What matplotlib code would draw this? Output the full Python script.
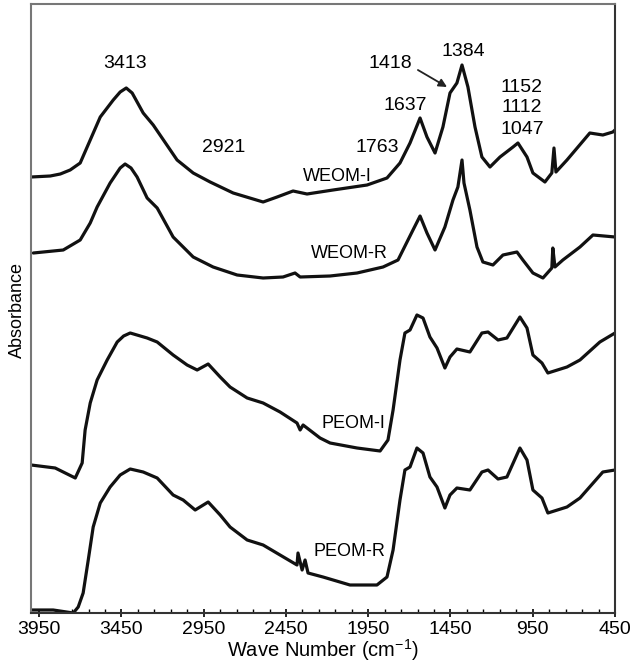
import numpy as np
import matplotlib
matplotlib.use("Agg")
import matplotlib.pyplot as plt
from matplotlib.ticker import FixedLocator, NullLocator

plt.rcParams['font.family'] = ['Liberation Sans', 'DejaVu Sans']
plt.rcParams['mathtext.default'] = 'regular'

# ─────────────────────────────────────────────
# Spectra (wavenumber in cm-1, absorbance in arbitrary stacked units)
# ─────────────────────────────────────────────

weom_i_wn = [3999, 3883, 3822, 3762, 3701, 3640, 3579, 3500, 3458, 3421, 3385, 3318,
             3257, 3112, 3014, 2911, 2771, 2589, 2504, 2407, 2322, 2243, 2164, 1957,
             1836, 1757, 1696, 1635, 1593, 1544, 1496, 1453, 1411, 1380, 1344, 1301,
             1259, 1210, 1149, 1070, 1040, 985, 949, 876, 834, 821, 809, 742, 603,
             524, 463, 450]
weom_i_ab = [4.36, 4.37, 4.39, 4.43, 4.50, 4.73, 4.96, 5.13, 5.21, 5.25, 5.20, 5.00,
             4.88, 4.53, 4.40, 4.31, 4.20, 4.11, 4.16, 4.22, 4.19, 4.21, 4.23, 4.28,
             4.35, 4.50, 4.70, 4.95, 4.76, 4.60, 4.86, 5.20, 5.30, 5.48, 5.26, 4.86,
             4.56, 4.46, 4.56, 4.66, 4.70, 4.56, 4.40, 4.31, 4.40, 4.65, 4.41, 4.53,
             4.80, 4.78, 4.81, 4.83]

weom_r_wn = [3986, 3804, 3701, 3640, 3598, 3519, 3458, 3428, 3392, 3355, 3294, 3233,
             3136, 3014, 2893, 2747, 2589, 2468, 2395, 2364, 2182, 2018, 1860, 1769,
             1678, 1635, 1593, 1544, 1484, 1435, 1405, 1380, 1368, 1332, 1289, 1253,
             1192, 1131, 1046, 1010, 949, 888, 834, 828, 815, 767, 663, 584, 450]
weom_r_ab = [3.60, 3.63, 3.73, 3.90, 4.06, 4.30, 4.45, 4.49, 4.45, 4.36, 4.15, 4.05,
             3.76, 3.56, 3.46, 3.38, 3.35, 3.36, 3.40, 3.36, 3.37, 3.40, 3.46, 3.53,
             3.83, 3.97, 3.80, 3.63, 3.86, 4.13, 4.26, 4.53, 4.30, 4.03, 3.66, 3.51,
             3.48, 3.58, 3.61, 3.53, 3.40, 3.35, 3.45, 3.65, 3.46, 3.53, 3.66, 3.78,
             3.76]

peom_i_wn = [3999, 3853, 3743, 3731, 3689, 3671, 3640, 3598, 3537, 3476, 3437, 3397,
             3294, 3233, 3136, 3051, 2990, 2923, 2850, 2790, 2686, 2589, 2486, 2383,
             2364, 2346, 2243, 2182, 2018, 1878, 1830, 1799, 1757, 1727, 1696, 1654,
             1617, 1575, 1532, 1484, 1453, 1411, 1332, 1259, 1222, 1161, 1107, 1028,
             985, 949, 894, 858, 742, 663, 542, 450]
peom_i_ab = [1.48, 1.45, 1.36, 1.35, 1.50, 1.83, 2.10, 2.33, 2.53, 2.71, 2.77, 2.80,
             2.75, 2.71, 2.58, 2.48, 2.43, 2.49, 2.36, 2.26, 2.15, 2.10, 2.01, 1.90,
             1.83, 1.88, 1.75, 1.70, 1.65, 1.62, 1.73, 2.03, 2.53, 2.80, 2.83, 2.98,
             2.95, 2.76, 2.65, 2.45, 2.56, 2.64, 2.61, 2.80, 2.81, 2.73, 2.75, 2.96,
             2.85, 2.58, 2.50, 2.40, 2.46, 2.53, 2.71, 2.80]

peom_r_wn = [3999, 3865, 3743, 3713, 3683, 3652, 3622, 3579, 3519, 3458, 3397, 3318,
             3233, 3136, 3075, 3002, 2923, 2850, 2790, 2686, 2589, 2486, 2383, 2377,
             2352, 2334, 2316, 2225, 2061, 1897, 1836, 1799, 1757, 1727, 1696, 1654,
             1617, 1575, 1532, 1484, 1453, 1411, 1332, 1259, 1222, 1161, 1107, 1028,
             985, 949, 894, 858, 742, 663, 524, 450]
peom_r_ab = [0.03, 0.03, 0.00, 0.06, 0.20, 0.53, 0.86, 1.10, 1.26, 1.38, 1.44, 1.41,
             1.35, 1.18, 1.13, 1.03, 1.11, 0.98, 0.86, 0.73, 0.68, 0.58, 0.48, 0.60,
             0.43, 0.53, 0.40, 0.36, 0.28, 0.28, 0.36, 0.63, 1.13, 1.43, 1.46, 1.65,
             1.60, 1.36, 1.26, 1.05, 1.18, 1.25, 1.23, 1.41, 1.43, 1.34, 1.36, 1.65,
             1.53, 1.23, 1.15, 1.00, 1.06, 1.15, 1.41, 1.43]

# curve names and where they sit on the plot
curve_names = ["WEOM-I", "WEOM-R", "PEOM-I", "PEOM-R"]
curve_label_x = [2140, 2067, 2042, 2067]
curve_label_y = [4.36, 3.59, 1.90, 0.61]

# peak labels
peak_text = ["3413", "2921", "1418", "1384", "1637", "1763", "1152", "1112", "1047"]
peak_x    = [3428, 2826, 1818, 1374, 1727, 1897, 1016, 1016, 1016]
peak_y    = [5.50, 4.66, 5.50, 5.61, 5.07, 4.66, 5.26, 5.05, 4.83]

major_ticks = [3950, 3450, 2950, 2450, 1950, 1450, 950, 450]
minor_ticks = list(range(450, 4000, 100))

# ─────────────────────────────────────────────
# Plot
# ─────────────────────────────────────────────

fig = plt.figure(figsize=(6.30, 6.68), dpi=100)
ax = fig.add_axes([31 / 630, 55 / 668, 584 / 630, 609 / 668])

for wn, ab in [(weom_i_wn, weom_i_ab), (weom_r_wn, weom_r_ab),
               (peom_i_wn, peom_i_ab), (peom_r_wn, peom_r_ab)]:
    ax.plot(wn, ab, color="#111111", linewidth=2.3,
            solid_joinstyle="round", solid_capstyle="round")

for name, x, y in zip(curve_names, curve_label_x, curve_label_y):
    ax.text(x, y, name, fontsize=13, ha="center", va="center")

for t, x, y in zip(peak_text, peak_x, peak_y):
    ax.text(x, y, t, fontsize=14, ha="center", va="center")

ax.annotate("", xy=(1471, 5.26), xytext=(1648, 5.43),
            arrowprops=dict(arrowstyle="-|>", color="#222222", lw=1.3,
                            mutation_scale=12, shrinkA=0, shrinkB=0))

ax.set_xlim(4000, 450)
ax.set_ylim(0, 6.09)

ax.xaxis.set_major_locator(FixedLocator(major_ticks))
ax.xaxis.set_minor_locator(FixedLocator(minor_ticks))
ax.set_xticklabels([str(t) for t in major_ticks])
ax.yaxis.set_major_locator(NullLocator())
ax.tick_params(axis="x", which="major", direction="inout", length=6, width=1.2,
               labelsize=14, pad=3)
ax.tick_params(axis="x", which="minor", direction="in", length=3, width=1.0)
ax.tick_params(top=False, right=False)

for side in ["left", "right", "top", "bottom"]:
    ax.spines[side].set_linewidth(1.5)
    ax.spines[side].set_color("#333333")
ax.spines["left"].set_color("#777777")
ax.spines["top"].set_color("#777777")

ax.set_xlabel("Wave Number (cm$^{-1}$)", fontsize=14.5, labelpad=-1)
fig.text(17 / 630, 1 - 310 / 668, "Absorbance", fontsize=13,
         rotation=90, ha="center", va="center")

fig.savefig("out.png", dpi=100)
